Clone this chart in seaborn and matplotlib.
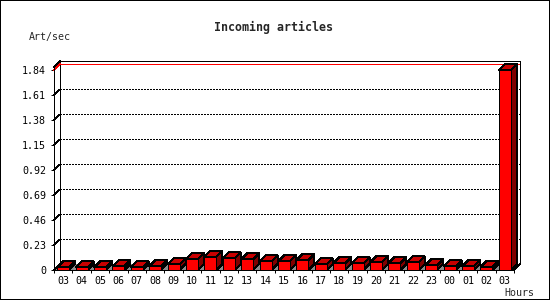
import numpy as np
import matplotlib
matplotlib.use("Agg")
import matplotlib.pyplot as plt
import seaborn as sns
from matplotlib.patches import Polygon, Rectangle

# ====================== DATA ======================
hours = ["03", "04", "05", "06", "07", "08", "09", "10", "11", "12", "13", "14",
         "15", "16", "17", "18", "19", "20", "21", "22", "23", "00", "01", "02", "03"]
rates = [0.025, 0.025, 0.025, 0.034, 0.025, 0.034, 0.053, 0.099, 0.123, 0.108,
         0.099, 0.080, 0.080, 0.090, 0.053, 0.062, 0.062, 0.071, 0.062, 0.071,
         0.043, 0.034, 0.034, 0.025, 1.84]
y_ticks = [0, 0.23, 0.46, 0.69, 0.92, 1.15, 1.38, 1.61, 1.84]
y_labels = ["0", "0.23", "0.46", "0.69", "0.92", "1.15", "1.38", "1.61", "1.84"]

sns.set_style("white")
plt.rcParams["font.family"] = ["DejaVu Sans Mono"]
plt.rcParams["lines.scale_dashes"] = False
plt.rcParams["lines.antialiased"] = False
plt.rcParams["patch.antialiased"] = False

# ====================== LAYOUT (pixels) ======================
W, H = 550, 300
PX = 0.72            # one pixel in points at dpi 100
FRONT_L, FRONT_B = 54, 270
FRONT_W, FRONT_H = 460, 200   # front plane size for the data range
DEPTH = 6                      # 3d offset in pixels
TOP_PAD = 3                    # back frame above max line

FRONT_COL = "#ff0000"
TOP_COL = "#c80000"
SIDE_COL = "#800000"
FLOOR_COL = "#8c8c8c"

n = len(hours)
ymax = y_ticks[-1]
dx = DEPTH * n / FRONT_W
dy = DEPTH * ymax / FRONT_H
ytop = ymax * (FRONT_H + DEPTH + TOP_PAD) / FRONT_H

fig = plt.figure(figsize=(W / 100, H / 100), dpi=100)
ax_w = FRONT_W + DEPTH
ax_h = FRONT_H + DEPTH + TOP_PAD
ax = fig.add_axes([FRONT_L / W, 1 - FRONT_B / H, ax_w / W, ax_h / H])

slot = np.arange(n)
sns.barplot(x=slot, y=rates, color=FRONT_COL, saturation=1, width=0.65,
            edgecolor="black", linewidth=PX, errorbar=None, ax=ax, zorder=3)

ax.set_xlim(-0.5, n - 0.5 + dx)
ax.set_ylim(0, ytop)

# 3d faces of each bar
for bar in list(ax.patches):
    x0, w, h = bar.get_x(), bar.get_width(), bar.get_height()
    x1 = x0 + w
    top = Polygon([(x0, h), (x0 + dx, h + dy), (x1 + dx, h + dy), (x1, h)],
                  closed=True, fc=TOP_COL, ec="black", lw=PX, zorder=2.9)
    side = Polygon([(x1, 0), (x1 + dx, dy), (x1 + dx, h + dy), (x1, h)],
                   closed=True, fc=SIDE_COL, ec="black", lw=PX, zorder=2.9)
    ax.add_patch(top)
    ax.add_patch(side)

# floor
xl, xr = -0.5, n - 0.5
ax.add_patch(Polygon([(xl, 0), (xr, 0), (xr + dx, dy), (xl + dx, dy)],
                     closed=True, fc=FLOOR_COL, ec="none", zorder=1))
ax.plot([xr, xr + dx], [0, dy], color="black", lw=PX, zorder=2, clip_on=False)
ax.plot([xl, xl + dx], [0, dy], color="black", lw=PX, zorder=2, clip_on=False)

# back frame
ax.plot([xl + dx, xl + dx, xr + dx, xr + dx], [dy, ytop, ytop, dy],
        color="black", lw=PX, zorder=1.5, clip_on=False)
ax.plot([xl, xl + dx], [ytop - dy, ytop], color="black", lw=PX, zorder=1.5, clip_on=False)

# grid lines on back wall
for v in y_ticks[1:-1]:
    ax.plot([xl + dx, xr + dx], [v + dy, v + dy], color="black", lw=PX,
            linestyle=(0, (1.44, 1.44)), zorder=1.5)
    ax.plot([xl, xl + dx], [v, v + dy], color="black", lw=PX,
            linestyle=(0, (1.44, 1.44)), zorder=1.5, clip_on=False)
ax.plot([xl + dx, xr + dx], [ymax + dy, ymax + dy], color="red", lw=PX, zorder=1.6)
ax.plot([xl, xl + dx], [ymax, ymax + dy], color="red", lw=PX, zorder=1.6, clip_on=False)

# spines and ticks
sns.despine(ax=ax, top=True, right=True)
for s in ("left", "bottom"):
    ax.spines[s].set_linewidth(PX)
    ax.spines[s].set_color("black")
ax.spines["left"].set_bounds(0, ytop - dy)
ax.spines["bottom"].set_bounds(xl, xr)

ax.set_yticks(y_ticks, y_labels)
ax.tick_params(axis="y", length=3 * PX, width=PX, pad=3.6, labelsize=7.2,
               direction="out", left=True, colors="black")
ax.set_xticks(np.arange(n + 1) - 0.5, [""] * (n + 1))
ax.set_xticks(slot, hours, minor=True)
ax.tick_params(axis="x", which="major", length=3 * PX, width=PX,
               direction="out", bottom=True, colors="black")
ax.tick_params(axis="x", which="minor", length=0, pad=4, labelsize=7.2,
               colors="black")
ax.set_xlabel("")
ax.set_ylabel("")
ax.patch.set_alpha(0)

# text
fig.text(273.5 / W, 1 - 27 / H, "Incoming articles", ha="center", va="center",
         fontsize=8.4, fontweight="bold")
fig.text(29 / W, 1 - 37 / H, "Art/sec", ha="left", va="center", fontsize=7.2)
fig.text(504 / W, 1 - 293 / H, "Hours", ha="left", va="center", fontsize=7.2)

# outer border
fig.patches.append(Rectangle((0, 0), 1, 1, transform=fig.transFigure, fill=False,
                             ec="black", lw=2 * PX, zorder=10))

fig.savefig("out.png", dpi=100)
